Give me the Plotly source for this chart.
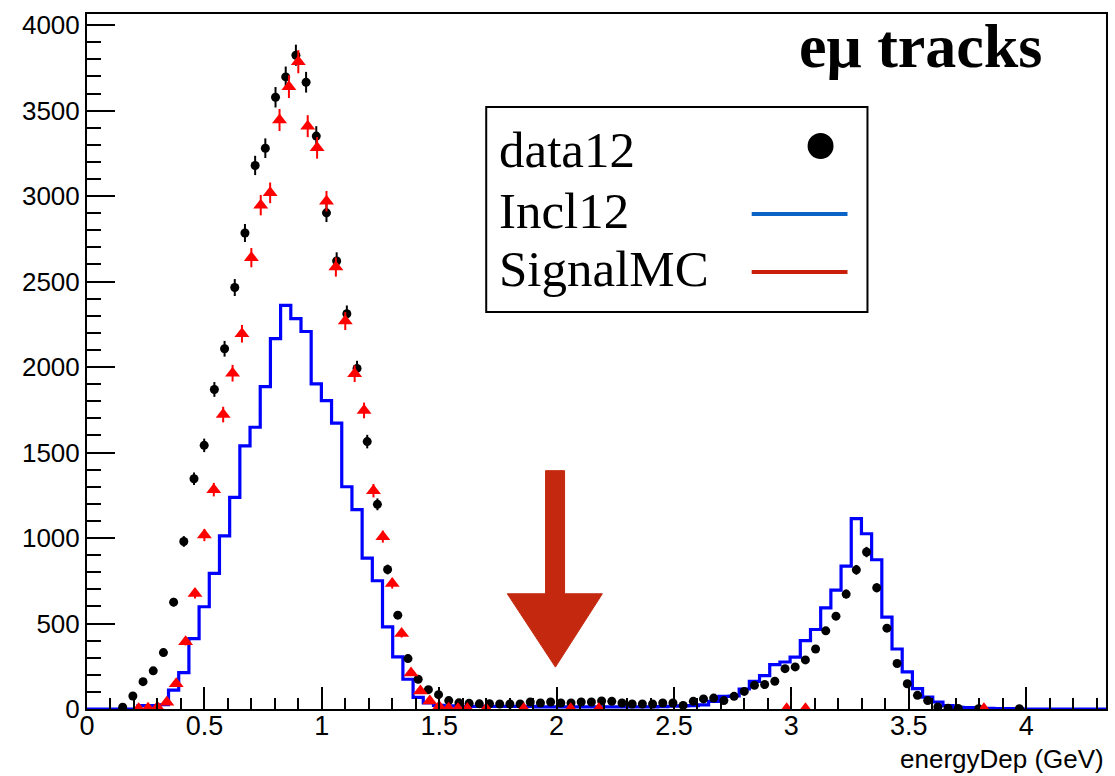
import numpy as np
import plotly.graph_objects as go

# ---------------- data ----------------
X_MAX = 4.34
Y_MAX = 4065
N_BINS = 100                 # data12 / Incl12 binning
SIG_BIN_W = 0.04             # SignalMC binning

data12 = [None, None, None, 10, 76, 160, 223, 330, 625, 980,
          1347, 1542, 1869, 2107, 2465, 2784, 3179, 3280, 3578, 3697,
          3824, 3666, 3351, 2902, 2620, 2312, 1992, 1564, 1197, 816,
          549, 295, 174, 113, 84, 49, 36, 33, 30, 31,
          29, 29, 29, 41, 35, 41, 35, 35, 41, 41,
          47, 45, 35, 29, 29, 29, 35, 35, 21, 45,
          59, 64, 49, 74, 103, 139, 143, 162, 236, 246,
          287, 351, 457, 543, 672, 814, 918, 709, 473, 266,
          148, 80, 49, 12, 5, 3, None, 2, None, None,
          None, 2, None, None, None, None, None, None, None, None]

incl12 = [0, 0, 0, 0, 0, 20, 20, 25, 110, 213,
          412, 598, 793, 1013, 1238, 1539, 1648, 1886, 2166, 2361,
          2283, 2208, 1902, 1804, 1672, 1300, 1166, 883, 750, 480,
          305, 174, 68, 35, 21, 18, 16, 15, 15, 15,
          15, 15, 15, 15, 12, 12, 12, 12, 12, 12,
          12, 12, 12, 12, 12, 12, 14, 16, 18, 20,
          24, 45, 74, 76, 117, 162, 195, 260, 275, 303,
          400, 465, 592, 695, 836, 1113, 1025, 873, 537, 351,
          217, 119, 70, 41, 20, 10, 8, 6, 4, 3,
          2, 0, 0, 0, 0, 0, 0, 0, 0, 0]

signal_bins = [5, 6, 7, 8, 9, 10, 11, 12, 13, 14,
               15, 16, 17, 18, 19, 20, 21, 22, 23, 24,
               25, 26, 27, 28, 29, 30, 31, 32, 33, 34,
               35, 36, 37, 38, 39, 40, 42, 46, 51, 54,
               74, 76, 95]
signal_vals = [2, 5, 10, 40, 148, 394, 675, 1017, 1283, 1722,
               1964, 2195, 2640, 2947, 3019, 3445, 3640, 3786, 3409, 3282,
               2970, 2585, 2269, 1961, 1746, 1277, 1008, 734, 441, 210,
               105, 47, 14, 4, 2, 2, 1, 1, 1, 1,
               1, 1, 1]

x_tickvals = [0, 0.5, 1, 1.5, 2, 2.5, 3, 3.5, 4]
x_ticktext = ["0", "0.5", "1", "1.5", "2", "2.5", "3", "3.5", "4"]
y_tickvals = [0, 500, 1000, 1500, 2000, 2500, 3000, 3500, 4000]
y_ticktext = ["0", "500", "1000", "1500", "2000", "2500", "3000", "3500", "4000"]

legend_labels = ["data12", "Incl12", "SignalMC"]
title_text = "eμ tracks"
x_title = "energyDep (GeV)"

# ---------------- layout geometry ----------------
W, H = 1115, 776
ML, MR, MT, MB = 87, 7, 14, 67
PW, PH = W - ML - MR, H - MT - MB


def px(x):
    return (x - ML) / PW


def py(y):
    return (H - MB - y) / PH


bin_w = X_MAX / N_BINS
edges = np.arange(N_BINS + 1) * bin_w
centers = (np.arange(N_BINS) + 0.5) * bin_w

fig = go.Figure()

# Incl12 histogram (step line)
fig.add_trace(go.Scatter(
    x=edges, y=list(incl12) + [incl12[-1]],
    mode="lines", line=dict(shape="hv", color="#0000ff", width=3.2),
    showlegend=False, hoverinfo="skip"))

# data12 points
d_x = [c for c, v in zip(centers, data12) if v is not None]
d_y = [v for v in data12 if v is not None]
fig.add_trace(go.Scatter(
    x=d_x, y=d_y, mode="markers",
    marker=dict(symbol="circle", size=9, color="black"),
    error_y=dict(type="data", array=np.sqrt(d_y), color="black",
                 thickness=2, width=0),
    showlegend=False))

# SignalMC points
s_x = (np.array(signal_bins) + 0.5) * SIG_BIN_W
fig.add_trace(go.Scatter(
    x=s_x, y=signal_vals, mode="markers",
    marker=dict(symbol="triangle-up", size=13, color="#ff0000"),
    error_y=dict(type="data", array=np.sqrt(signal_vals) * 1.1, color="#ff0000",
                 thickness=2, width=0),
    showlegend=False))

shapes = []
annotations = []

# hand-drawn style red arrow (in data coordinates)
arrow_col = "#c4290f"
shapes.append(dict(
    type="path", xref="x", yref="y",
    path=("M 1.953 1394 L 2.034 1394 L 2.034 674 L 2.195 674 "
          "L 1.995 245 L 1.790 674 L 1.953 674 Z"),
    fillcolor=arrow_col, line=dict(color=arrow_col, width=1)))

# legend box
shapes.append(dict(type="rect", xref="paper", yref="paper",
                   x0=px(487), x1=px(869), y0=py(312), y1=py(107),
                   line=dict(color="black", width=2), fillcolor="white"))
shapes.append(dict(type="circle", xref="paper", yref="paper",
                   x0=px(809), x1=px(835), y0=py(159), y1=py(133),
                   line=dict(color="black", width=0), fillcolor="black"))
shapes.append(dict(type="line", xref="paper", yref="paper",
                   x0=px(753), x1=px(849), y0=py(214), y1=py(214),
                   line=dict(color="#0a64c8", width=4)))
shapes.append(dict(type="line", xref="paper", yref="paper",
                   x0=px(753), x1=px(849), y0=py(272), y1=py(272),
                   line=dict(color="#c8200a", width=4)))

leg_font = dict(family="Liberation Serif, Times New Roman, serif", size=51, color="black")
for lab, yc in zip(legend_labels, [150, 211, 269]):
    annotations.append(dict(text=lab, xref="paper", yref="paper",
                            x=px(498), y=py(yc), xanchor="left", yanchor="middle",
                            showarrow=False, font=leg_font))

annotations.append(dict(text="<b>" + title_text + "</b>", xref="paper", yref="paper",
                        x=px(922), y=py(46), xanchor="center", yanchor="middle",
                        showarrow=False,
                        font=dict(family="Liberation Serif, Times New Roman, serif",
                                  size=62, color="black")))

annotations.append(dict(text=x_title, xref="paper", yref="paper",
                        x=px(1108), y=py(759), xanchor="right", yanchor="middle",
                        showarrow=False,
                        font=dict(family="Liberation Sans, Arial, sans-serif",
                                  size=26, color="black")))

axis_common = dict(showgrid=False, zeroline=False, showline=True, mirror=True,
                   linecolor="black", linewidth=2, ticks="inside",
                   tickcolor="black", tickwidth=2)

fig.update_layout(
    width=W, height=H,
    margin=dict(l=ML, r=MR, t=MT, b=MB, pad=0),
    paper_bgcolor="white", plot_bgcolor="white",
    showlegend=False,
    shapes=shapes, annotations=annotations,
    xaxis=dict(range=[0, X_MAX], tickvals=x_tickvals, ticktext=x_ticktext,
               ticklen=22, ticklabelstandoff=-8,
               tickfont=dict(family="Liberation Sans, Arial, sans-serif", size=27, color="black"),
               minor=dict(dtick=0.1, tick0=0, ticks="inside", ticklen=11,
                          tickcolor="black", tickwidth=1.5),
               **axis_common),
    yaxis=dict(range=[0, Y_MAX], tickvals=y_tickvals, ticktext=y_ticktext,
               ticklen=28,
               tickfont=dict(family="Liberation Sans, Arial, sans-serif", size=26, color="black"),
               minor=dict(dtick=100, tick0=0, ticks="inside", ticklen=14,
                          tickcolor="black", tickwidth=1.5),
               **axis_common),
)

fig.write_html("out.html")
